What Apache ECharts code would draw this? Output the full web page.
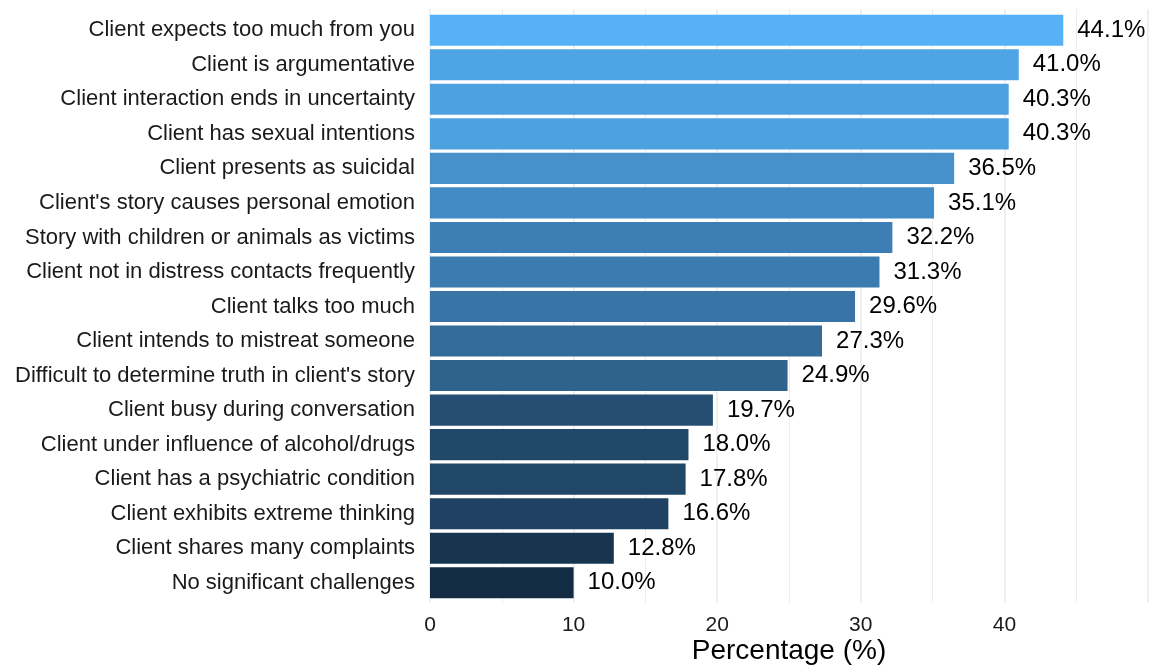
<!DOCTYPE html>
<html>
<head>
<meta charset="utf-8">
<script src="https://cdn.jsdelivr.net/npm/echarts@6/dist/echarts.min.js"></script>
<style>
  html, body { margin: 0; padding: 0; background: #fff; }
  #chart { width: 1154px; height: 665px; }
</style>
</head>
<body>
<div id="chart"></div>
<script>
// Reported challenges, share of respondents (%)
const categories = [
  "Client expects too much from you",
  "Client is argumentative",
  "Client interaction ends in uncertainty",
  "Client has sexual intentions",
  "Client presents as suicidal",
  "Client's story causes personal emotion",
  "Story with children or animals as victims",
  "Client not in distress contacts frequently",
  "Client talks too much",
  "Client intends to mistreat someone",
  "Difficult to determine truth in client's story",
  "Client busy during conversation",
  "Client under influence of alcohol/drugs",
  "Client has a psychiatric condition",
  "Client exhibits extreme thinking",
  "Client shares many complaints",
  "No significant challenges"
];
const percentages = [44.1, 41.0, 40.3, 40.3, 36.5, 35.1, 32.2, 31.3, 29.6, 27.3, 24.9, 19.7, 18.0, 17.8, 16.6, 12.8, 10.0];
const xTickLabels = ["0", "10", "20", "30", "40"];

// Continuous fill scale: dark navy (low) to light blue (high), blended in CIELAB
const LOW = "#132B43", HIGH = "#56B1F7";
function hexToRgb(h) { return [1, 3, 5].map(i => parseInt(h.substr(i, 2), 16) / 255); }
function lin(c) { return c <= 0.04045 ? c / 12.92 : Math.pow((c + 0.055) / 1.055, 2.4); }
function delin(c) { return c <= 0.0031308 ? 12.92 * c : 1.055 * Math.pow(c, 1 / 2.4) - 0.055; }
const WX = 0.95047, WY = 1.0, WZ = 1.08883;
function rgbToLab(rgb) {
  const [r, g, b] = rgb.map(lin);
  const x = (r * 0.4124 + g * 0.3576 + b * 0.1805) / WX;
  const y = (r * 0.2126 + g * 0.7152 + b * 0.0722) / WY;
  const z = (r * 0.0193 + g * 0.1192 + b * 0.9505) / WZ;
  const f = t => t > 0.008856 ? Math.cbrt(t) : 7.787 * t + 16 / 116;
  const fx = f(x), fy = f(y), fz = f(z);
  return [116 * fy - 16, 500 * (fx - fy), 200 * (fy - fz)];
}
function labToHex(lab) {
  const fy = (lab[0] + 16) / 116, fx = fy + lab[1] / 500, fz = fy - lab[2] / 200;
  const fi = t => t * t * t > 0.008856 ? t * t * t : (t - 16 / 116) / 7.787;
  const x = fi(fx) * WX, y = fi(fy) * WY, z = fi(fz) * WZ;
  const r = x * 3.2406 + y * -1.5372 + z * -0.4986;
  const g = x * -0.9689 + y * 1.8758 + z * 0.0415;
  const b = x * 0.0557 + y * -0.2040 + z * 1.0570;
  return "#" + [r, g, b].map(c => {
    const v = Math.round(Math.min(1, Math.max(0, delin(c))) * 255);
    return v.toString(16).padStart(2, "0");
  }).join("");
}
const labLow = rgbToLab(hexToRgb(LOW)), labHigh = rgbToLab(hexToRgb(HIGH));
const vMin = Math.min(...percentages), vMax = Math.max(...percentages);
function fillFor(v) {
  const t = (v - vMin) / (vMax - vMin);
  return labToHex(labLow.map((c, i) => c + (labHigh[i] - c) * t));
}

const FONT = "Liberation Sans, Arial, sans-serif";
const PLOT_LEFT = 430, PLOT_RIGHT = 6;

const chart = echarts.init(document.getElementById("chart"), null, { renderer: "canvas" });
chart.setOption({
  backgroundColor: "#ffffff",
  animation: false,
  grid: [
    // panel with gridlines and the percentage axis
    { left: PLOT_LEFT, right: PLOT_RIGHT, top: 9, bottom: 62, containLabel: false, outerBoundsMode: "none" },
    // bars and category labels
    { left: PLOT_LEFT, right: PLOT_RIGHT, top: 13, bottom: 65, containLabel: false, outerBoundsMode: "none" }
  ],
  xAxis: [
    {
      gridIndex: 0, type: "value", min: 0, max: 50, interval: 10,
      axisLine: { show: false }, axisTick: { show: false },
      axisLabel: {
        margin: 12, fontFamily: FONT, fontSize: 21, color: "#1a1a1a",
        formatter: v => xTickLabels.includes(String(v)) ? String(v) : ""
      },
      splitLine: { show: true, lineStyle: { color: "#EBEBEB", width: 1.6 } },
      minorTick: { show: false, splitNumber: 2 },
      minorSplitLine: { show: true, lineStyle: { color: "#EBEBEB", width: 0.9 } },
      name: "Percentage (%)", nameLocation: "middle", nameGap: 34, nameMoveOverlap: false,
      nameTextStyle: { fontFamily: FONT, fontSize: 28, color: "#000", verticalAlign: "top" }
    },
    {
      gridIndex: 1, type: "value", min: 0, max: 50,
      show: false, splitLine: { show: false }
    }
  ],
  yAxis: [
    {
      gridIndex: 0, type: "value", min: 0, max: 1, show: false, splitLine: { show: false }
    },
    {
      gridIndex: 1, type: "category", data: categories, inverse: true,
      axisLine: { show: false }, axisTick: { show: false },
      axisLabel: { margin: 15, fontFamily: FONT, fontSize: 22, color: "#1a1a1a" },
      splitLine: { show: false }
    }
  ],
  series: [
    {
      type: "bar", xAxisIndex: 1, yAxisIndex: 1,
      barCategoryGap: "10%",
      data: percentages.map(v => ({ value: v, itemStyle: { color: fillFor(v) } })),
      label: {
        show: true, position: "right", distance: 14,
        fontFamily: FONT, fontSize: 24, color: "#000",
        formatter: p => p.value.toFixed(1) + "%"
      }
    }
  ]
});
</script>
</body>
</html>
